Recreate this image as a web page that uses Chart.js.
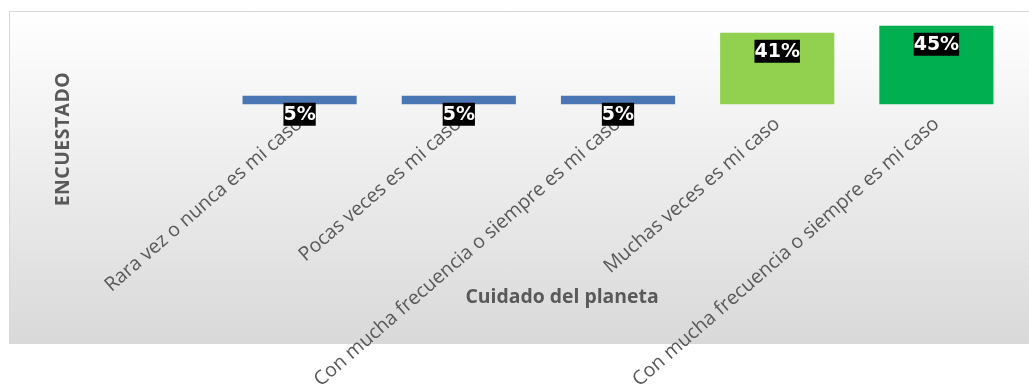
<!DOCTYPE html>
<html>
<head>
<meta charset="utf-8">
<script src="https://cdn.jsdelivr.net/npm/chart.js@4/dist/chart.umd.min.js"></script>
<style>
  body { margin: 0; background: #fff; }
  #wrap { position: relative; width: 1029px; height: 385px; overflow: hidden; }
  #frame {
    position: absolute; left: 9px; top: 11px; width: 1030px; height: 331px;
    border: 1px solid #d9d9d9;
    background: linear-gradient(to bottom, #ffffff 0%, #d9d9d9 100%);
  }
  #chart { position: absolute; left: 0; top: 0; }
</style>
</head>
<body>
<div id="wrap">
  <div id="frame"></div>
  <canvas id="chart" width="1029" height="385"></canvas>
</div>
<script>
// categories and values
const categories = [
  'Rara vez o nunca es mi caso',
  'Pocas veces es mi caso',
  'Con mucha frecuencia o siempre es mi caso',
  'Muchas veces es mi caso',
  'Con mucha frecuencia o siempre es mi caso'
];
const percentages = [5, 5, 5, 41, 45];
const barColors = ['#4a77b4', '#4a77b4', '#4a77b4', '#92d050', '#00b050'];
const xTitle = 'Cuidado del planeta';
const yTitle = 'ENCUESTADO';

// Black boxed labels under the top of each bar
const valueLabels = {
  id: 'valueLabels',
  afterDatasetsDraw(chart) {
    const ctx = chart.ctx;
    const meta = chart.getDatasetMeta(0);
    ctx.save();
    ctx.font = 'bold 19px "DejaVu Sans"';
    ctx.textAlign = 'center';
    ctx.textBaseline = 'middle';
    meta.data.forEach((bar, i) => {
      const text = percentages[i] + '%';
      const w = ctx.measureText(text).width;
      const top = bar.y + 7;
      ctx.fillStyle = '#000';
      ctx.fillRect(bar.x - w / 2, top, w, 23);
      ctx.fillStyle = '#fff';
      ctx.fillText(text, bar.x, top + 12);
    });
    ctx.restore();
  }
};

// Axis titles, placed where the original puts them
const axisTitles = {
  id: 'axisTitles',
  afterDraw(chart) {
    const ctx = chart.ctx;
    ctx.save();
    ctx.fillStyle = '#595959';
    ctx.font = 'bold 19.4px "Open Sans"';
    ctx.textAlign = 'center';
    ctx.textBaseline = 'middle';
    ctx.fillText(xTitle, 562, 297);
    ctx.translate(63, 139);
    ctx.rotate(-Math.PI / 2);
    ctx.letterSpacing = '0.5px';
    ctx.fillText(yTitle, 0, 0);
    ctx.restore();
  }
};

new Chart(document.getElementById('chart'), {
  type: 'bar',
  data: {
    labels: categories,
    datasets: [{
      data: percentages,
      backgroundColor: barColors,
      borderWidth: 0,
      barPercentage: 0.717,
      categoryPercentage: 1
    }]
  },
  options: {
    responsive: false,
    animation: false,
    layout: { padding: { left: 220, right: 13, top: 17, bottom: 0 } },
    plugins: {
      legend: { display: false },
      tooltip: { enabled: false }
    },
    scales: {
      x: {
        grid: { display: false, drawTicks: false },
        border: { display: false },
        ticks: {
          autoSkip: false,
          minRotation: 41,
          maxRotation: 41,
          padding: 8,
          color: '#595959',
          font: { family: 'Open Sans', size: 19.5 }
        },
        afterFit(scale) { scale.height = 280.5; }
      },
      y: {
        display: false,
        min: 0,
        max: 50
      }
    }
  },
  plugins: [valueLabels, axisTitles]
});
</script>
</body>
</html>
